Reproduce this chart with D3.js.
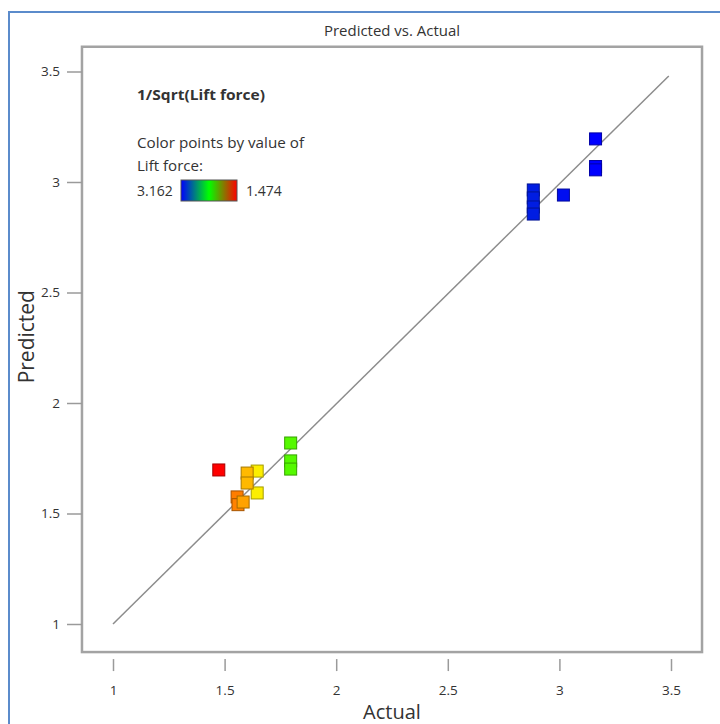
<!DOCTYPE html>
<html lang="en">
	<head>
		<meta charset="utf-8">
		<title>predicted vs actual</title>
		<script type="text/javascript" src="https://cdn.jsdelivr.net/npm/d3@7"></script>
		<style type="text/css">
			body{margin:0;background:#fff;}
			text{font-family:"Open Sans",sans-serif;fill:#333;}
		</style>
	</head>
	<body>
		<div id="chart"></div>
		<script type="text/javascript">

// values
var actual    = [3.162,3.162,3.162,3.018,2.883,2.883,2.883,2.883,1.796,1.796,1.796,1.646,1.646,1.601,1.601,1.556,1.560,1.583,1.474]
var predicted = [3.195,3.070,3.055,2.941,2.964,2.928,2.887,2.855,1.819,1.738,1.701,1.692,1.593,1.683,1.638,1.575,1.540,1.552,1.697]
var tickValues = [1,1.5,2,2.5,3,3.5]
var tickLabels = ["1","1.5","2","2.5","3","3.5"]
var colorMin = 3.162
var colorMax = 1.474

var w = 720
var h = 724

var svg = d3.select("#chart").append("svg")
	.attr("width",w)
	.attr("height",h)

// blue frame of the screenshot (top and left edges only)
svg.append("path")
	.attr("d","M9,724 V12 H720")
	.attr("fill","none")
	.attr("stroke","#5b8bcb")
	.attr("stroke-width",2)

var xScale = d3.scaleLinear().domain([1,3.5]).range([113,671])
var yScale = d3.scaleLinear().domain([1,3.5]).range([624,71.5])

// plot box
var boxL = xScale(0.861), boxR = xScale(3.639), boxT = yScale(3.612), boxB = yScale(0.873)
svg.append("rect")
	.attr("x",boxL).attr("y",boxT)
	.attr("width",boxR-boxL).attr("height",boxB-boxT)
	.attr("fill","none")
	.attr("stroke","#a3a3a3")
	.attr("stroke-width",2.5)

svg.append("text")
	.text("Predicted vs. Actual")
	.attr("x",(boxL+boxR)/2)
	.attr("y",36)
	.attr("text-anchor","middle")
	.attr("textLength",136)
	.attr("lengthAdjust","spacingAndGlyphs")
	.style("font-size","14px")

var xAxis = d3.axisBottom().scale(xScale).tickValues(tickValues)
	.tickFormat(function(d,i){ return tickLabels[i] })
	.tickSize(12).tickPadding(14)
var yAxis = d3.axisLeft().scale(yScale).tickValues(tickValues)
	.tickFormat(function(d,i){ return tickLabels[i] })
	.tickSize(15).tickPadding(7)

var gx = svg.append("g").attr("transform","translate(0,"+(boxB+7)+")").call(xAxis)
var gy = svg.append("g").attr("transform","translate("+boxL+",0)").call(yAxis)
;[gx,gy].forEach(function(g){
	g.select(".domain").remove()
	g.selectAll("line").attr("stroke","#9a9a9a").attr("stroke-width",1.5)
	g.selectAll("text").style("font-size","13.5px").style("font-family","'Open Sans',sans-serif").attr("fill","#333")
})

svg.append("text")
	.text("Actual")
	.attr("x",(boxL+boxR)/2)
	.attr("y",719)
	.attr("text-anchor","middle")
	.style("font-size","20px")

svg.append("text")
	.text("Predicted")
	.attr("transform","translate(34,"+yScale(2.3)+") rotate(-90)")
	.attr("text-anchor","middle")
	.style("font-size","21px")

// diagonal reference line
svg.append("line")
	.attr("x1",xScale(1)).attr("y1",yScale(1))
	.attr("x2",xScale(3.49)).attr("y2",yScale(3.48))
	.attr("stroke","#8c8c8c")
	.attr("stroke-width",1.5)

// colour by lift force (= 1/actual^2)
var lfLow = 1/(colorMin*colorMin), lfHigh = 1/(colorMax*colorMax)
var colorScale = d3.scaleLinear()
	.domain([lfLow,(lfLow+lfHigh)/2,lfLow+(lfHigh-lfLow)*0.75,lfHigh])
	.range(["#0000ff","#00ff00","#ffee00","#ff0000"])

var points = actual.map(function(a,i){ return {a:a,p:predicted[i]} })
var s = 12
svg.selectAll(".pt")
	.data(points)
	.enter()
	.append("rect")
	.attr("class","pt")
	.attr("x",function(d){ return xScale(d.a)-s/2 })
	.attr("y",function(d){ return yScale(d.p)-s/2 })
	.attr("width",s).attr("height",s)
	.attr("fill",function(d){ return colorScale(1/(d.a*d.a)) })
	.attr("stroke",function(d){ return d3.color(colorScale(1/(d.a*d.a))).darker(1.2) })
	.attr("stroke-width",1)

// legend
var lx = 137
svg.append("text").text("1/Sqrt(Lift force)")
	.attr("x",lx).attr("y",100)
	.attr("textLength",128)
	.attr("lengthAdjust","spacingAndGlyphs")
	.style("font-size","14px").style("font-weight","bold")
svg.append("text").text("Color points by value of")
	.attr("x",lx).attr("y",148)
	.attr("textLength",167)
	.attr("lengthAdjust","spacingAndGlyphs")
	.style("font-size","14px")
svg.append("text").text("Lift force:")
	.attr("x",lx).attr("y",171)
	.attr("textLength",66)
	.attr("lengthAdjust","spacingAndGlyphs")
	.style("font-size","14px")
svg.append("text").text(colorMin.toFixed(3))
	.attr("x",lx).attr("y",196)
	.style("font-size","14px")
svg.append("text").text(colorMax.toFixed(3))
	.attr("x",246).attr("y",196)
	.style("font-size","14px")

var grad = svg.append("defs").append("linearGradient").attr("id","lg")
grad.selectAll("stop")
	.data([0,0.5,1])
	.enter()
	.append("stop")
	.attr("offset",function(d){ return d*100+"%" })
	.attr("stop-color",function(d,i){ return ["#0000ff","#00ff00","#ff0000"][i] })

svg.append("rect")
	.attr("x",181).attr("y",180)
	.attr("width",56).attr("height",21)
	.attr("fill","url(#lg)")
	.attr("stroke","#555")
	.attr("stroke-width",1)

		</script>
	</body>
</html>
